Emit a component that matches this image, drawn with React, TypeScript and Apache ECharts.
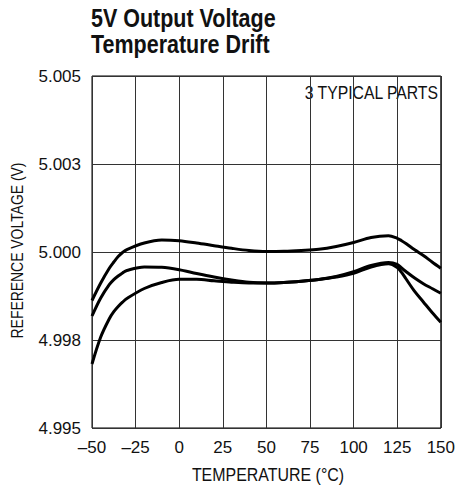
import React, { useEffect, useRef } from "react";
import * as echarts from "echarts";

const temps = [-50, -45, -40, -37.5, -35, -32.5, -30, -20, -10, 0, 10, 20, 30, 40, 50, 60, 70, 80, 90, 100, 110, 120, 125, 127.5, 130, 135, 140, 145, 150];
const partTop = [4.998622, 4.999119, 4.999545, 4.999716, 4.999872, 4.999986, 5.000071, 5.000256, 5.000341, 5.000321, 5.000256, 5.000179, 5.000105, 5.000043, 5.000014, 5.00002, 5.000043, 5.000077, 5.000156, 5.00027, 5.000412, 5.00046, 5.000389, 5.000321, 5.000241, 5.000063, 4.999901, 4.999716, 4.999537];
const partMid = [4.998182, 4.998693, 4.999077, 4.999215, 4.999318, 4.999405, 4.999474, 4.999574, 4.999565, 4.999497, 4.999389, 4.99929, 4.999205, 4.999139, 4.999119, 4.999134, 4.99917, 4.999219, 4.999304, 4.99944, 4.999616, 4.999702, 4.99965, 4.999545, 4.999446, 4.999261, 4.9991, 4.998963, 4.998827];
const partLow = [4.996818, 4.997585, 4.998111, 4.998305, 4.998452, 4.998575, 4.998679, 4.998963, 4.999134, 4.999224, 4.999224, 4.999182, 4.999142, 4.999119, 4.999119, 4.999134, 4.99917, 4.999219, 4.99929, 4.999395, 4.999574, 4.999665, 4.99956, 4.99942, 4.99924, 4.99888, 4.99858, 4.998281, 4.998003];
const yTickLabels = ["4.995", "4.998", "5.000", "5.003", "5.005"];
const titleLines = ["5V Output Voltage", "Temperature Drift"];
const annotation = "3 TYPICAL PARTS";
const xName = "TEMPERATURE (°C)";
const yName = "REFERENCE VOLTAGE (V)";

const FONT = "'Liberation Sans', Arial, sans-serif";

export default function App() {
  const ref = useRef<HTMLDivElement>(null);
  useEffect(() => {
    if (!ref.current) return;
    const chart = echarts.init(ref.current, undefined, { renderer: "svg" });
    const mk = (vals: number[]) => ({
      type: "line",
      data: temps.map((t, i) => [t, vals[i]]),
      smooth: 0.33,
      showSymbol: false,
      lineStyle: { color: "#000", width: 3 },
      z: 5,
    });
    chart.setOption({
      animation: false,
      backgroundColor: "#fff",
      textStyle: { fontFamily: FONT },
      grid: { left: 92, top: 76, width: 352, height: 352, show: true, borderColor: "#000", borderWidth: 1, containLabel: false },
      xAxis: {
        type: "value",
        min: -50,
        max: 150,
        interval: 25,
        axisLine: { show: false },
        axisTick: { show: false },
        axisLabel: {
          fontSize: 17,
          color: "#111",
          margin: 11,
          fontFamily: FONT,
          formatter: (v: number) => (v < 0 ? "\u2013" + Math.abs(v) : String(v)),
        },
        splitLine: { show: true, lineStyle: { color: "#333", width: 1 } },
      },
      yAxis: {
        type: "value",
        min: 4.995,
        max: 5.005,
        interval: 0.0025,
        axisLine: { show: false },
        axisTick: { show: false },
        axisLabel: {
          fontSize: 17,
          color: "#111",
          margin: 11,
          fontFamily: FONT,
          formatter: (v: number) => yTickLabels[Math.round((v - 4.995) / 0.0025)] ?? "",
        },
        splitLine: { show: true, lineStyle: { color: "#333", width: 1 } },
      },
      graphic: [
        {
          type: "text",
          x: 91,
          y: 5,
          scaleX: 0.86,
          style: { text: titleLines.join("\n"), font: "bold 25px " + FONT, lineHeight: 26, fill: "#111", align: "left", verticalAlign: "top" },
        },
        {
          type: "text",
          x: 438,
          y: 93.5,
          scaleX: 0.875,
          style: { text: annotation, font: "18px " + FONT, fill: "#111", align: "right", verticalAlign: "middle" },
        },
        {
          type: "text",
          x: 268,
          y: 475,
          scaleX: 0.84,
          style: { text: xName, font: "19px " + FONT, fill: "#111", align: "center", verticalAlign: "middle" },
        },
        {
          type: "text",
          x: 16.5,
          y: 250.5,
          rotation: Math.PI / 2,
          scaleX: 0.82,
          style: { text: yName, font: "17px " + FONT, fill: "#111", align: "center", verticalAlign: "middle" },
        },
      ],
      series: [mk(partTop), mk(partMid), mk(partLow)],
    });
    return () => chart.dispose();
  }, []);
  return <div ref={ref} style={{ position: "fixed", left: 0, top: 0, width: 458, height: 489 }} />;
}
